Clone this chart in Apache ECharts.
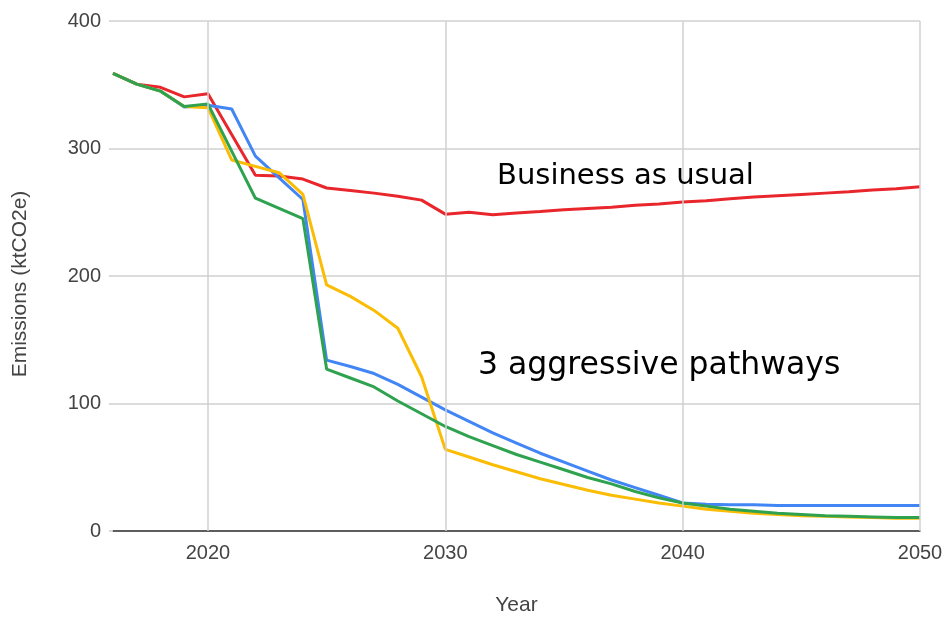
<!DOCTYPE html>
<html>
<head>
<meta charset="utf-8">
<script src="https://cdn.jsdelivr.net/npm/echarts@6/dist/echarts.min.js"></script>
<style>
  html, body { margin: 0; padding: 0; background: #fff; }
  #chart { width: 947px; height: 617px; }
</style>
</head>
<body>
<div id="chart"></div>
<script>
// Years 2016..2050
const years = [];
for (let y = 2016; y <= 2050; y++) years.push(y);

// Emissions by pathway, ktCO2e
const businessAsUsual = [359, 350.5, 348, 340.5, 343, 311, 279, 278.5, 276, 269, 267, 265, 262.5, 259.5,
  248.5, 250, 248, 249.5, 250.5, 252, 253, 254, 255.5, 256.5, 258, 259, 260.5, 262, 263, 264, 265, 266, 267.5, 268.5, 270];
const pathwayBlue = [359, 350.5, 345, 332.5, 334, 331, 294, 277, 260, 134, 129, 123.5, 115, 105,
  95, 86, 77, 69, 61, 54, 47, 40, 34, 28, 22, 21, 20.5, 20.5, 20, 20, 20, 20, 20, 20, 20];
const pathwayYellow = [359, 350.5, 345, 333, 332, 291, 286, 281, 264, 193, 184, 173, 159, 121,
  64, 58, 52, 46.5, 41, 36.5, 32, 28, 25, 22, 19.5, 17, 15.5, 14, 13, 12, 11.5, 11, 10.5, 10, 10];
const pathwayGreen = [359, 350.5, 345, 333, 335, 298, 261, 253, 245, 127, 120, 113, 102, 92,
  82, 74, 67, 60, 54, 48, 42, 37, 31, 26, 22, 19.5, 17, 15.5, 14, 13, 12, 11.5, 11, 10.5, 10.5];

const yTicks = [0, 100, 200, 300, 400];
const xTicks = [2020, 2030, 2040, 2050];

const pair = vals => years.map((y, i) => [y, vals[i]]);

const chart = echarts.init(document.getElementById('chart'), null, { renderer: 'canvas' });

const lineSeries = (name, color, vals) => ({
  name, type: 'line', data: pair(vals), showSymbol: false, symbol: 'none',
  lineStyle: { color, width: 3 }, itemStyle: { color }, animation: false, z: 3
});

const gridColor = '#d0d0d0';
const axisFont = 'Liberation Sans';

chart.setOption({
  animation: false,
  backgroundColor: '#ffffff',
  grid: { left: 113, right: 27, top: 21, bottom: 86, outerBoundsMode: 'none', containLabel: false },
  xAxis: {
    type: 'value', min: years[0], max: years[years.length - 1],
    name: 'Year', nameLocation: 'middle', nameGap: 64,
    nameTextStyle: { fontFamily: axisFont, fontSize: 21, color: '#444' },
    axisLine: { show: true, lineStyle: { color: '#333', width: 1.5 } },
    axisTick: { show: false },
    axisLabel: {
      customValues: xTicks, formatter: v => String(v),
      fontFamily: axisFont, fontSize: 20, color: '#444', margin: 12
    },
    splitLine: { show: false }
  },
  yAxis: {
    type: 'value', min: yTicks[0], max: yTicks[yTicks.length - 1], interval: 100,
    name: 'Emissions (ktCO2e)', nameLocation: 'middle', nameGap: 82, nameRotate: 90,
    nameTextStyle: { fontFamily: axisFont, fontSize: 21, color: '#444', padding: [0, 16, 0, 0] },
    axisLine: { show: false },
    axisTick: { show: true, length: 4, lineStyle: { color: gridColor, width: 1.5 } },
    axisLabel: { fontFamily: axisFont, fontSize: 20, color: '#444', margin: 12 },
    splitLine: { show: true, lineStyle: { color: gridColor, width: 1.5 } }
  },
  series: [
    {
      // vertical gridlines at the decade ticks
      name: 'decades', type: 'line', data: [], silent: true, z: 1,
      markLine: {
        silent: true, symbol: ['none', 'none'], label: { show: false },
        lineStyle: { color: gridColor, width: 1.5, type: 'solid' },
        emphasis: { disabled: true },
        data: xTicks.map(x => ({ xAxis: x }))
      }
    },
    lineSeries('Business as usual', '#e8262b', businessAsUsual),
    lineSeries('Pathway A', '#4285f4', pathwayBlue),
    lineSeries('Pathway B', '#fbbc04', pathwayYellow),
    lineSeries('Pathway C', '#2ea24f', pathwayGreen)
  ],
  graphic: [
    { type: 'text', x: 497, y: 176, z: 10,
      style: { text: 'Business as usual', font: '29px "DejaVu Sans"', fill: '#000', verticalAlign: 'middle' } },
    { type: 'text', x: 478, y: 366, z: 10,
      style: { text: '3 aggressive pathways', font: '31.5px "DejaVu Sans"', fill: '#000', verticalAlign: 'middle' } }
  ]
});
</script>
</body>
</html>
